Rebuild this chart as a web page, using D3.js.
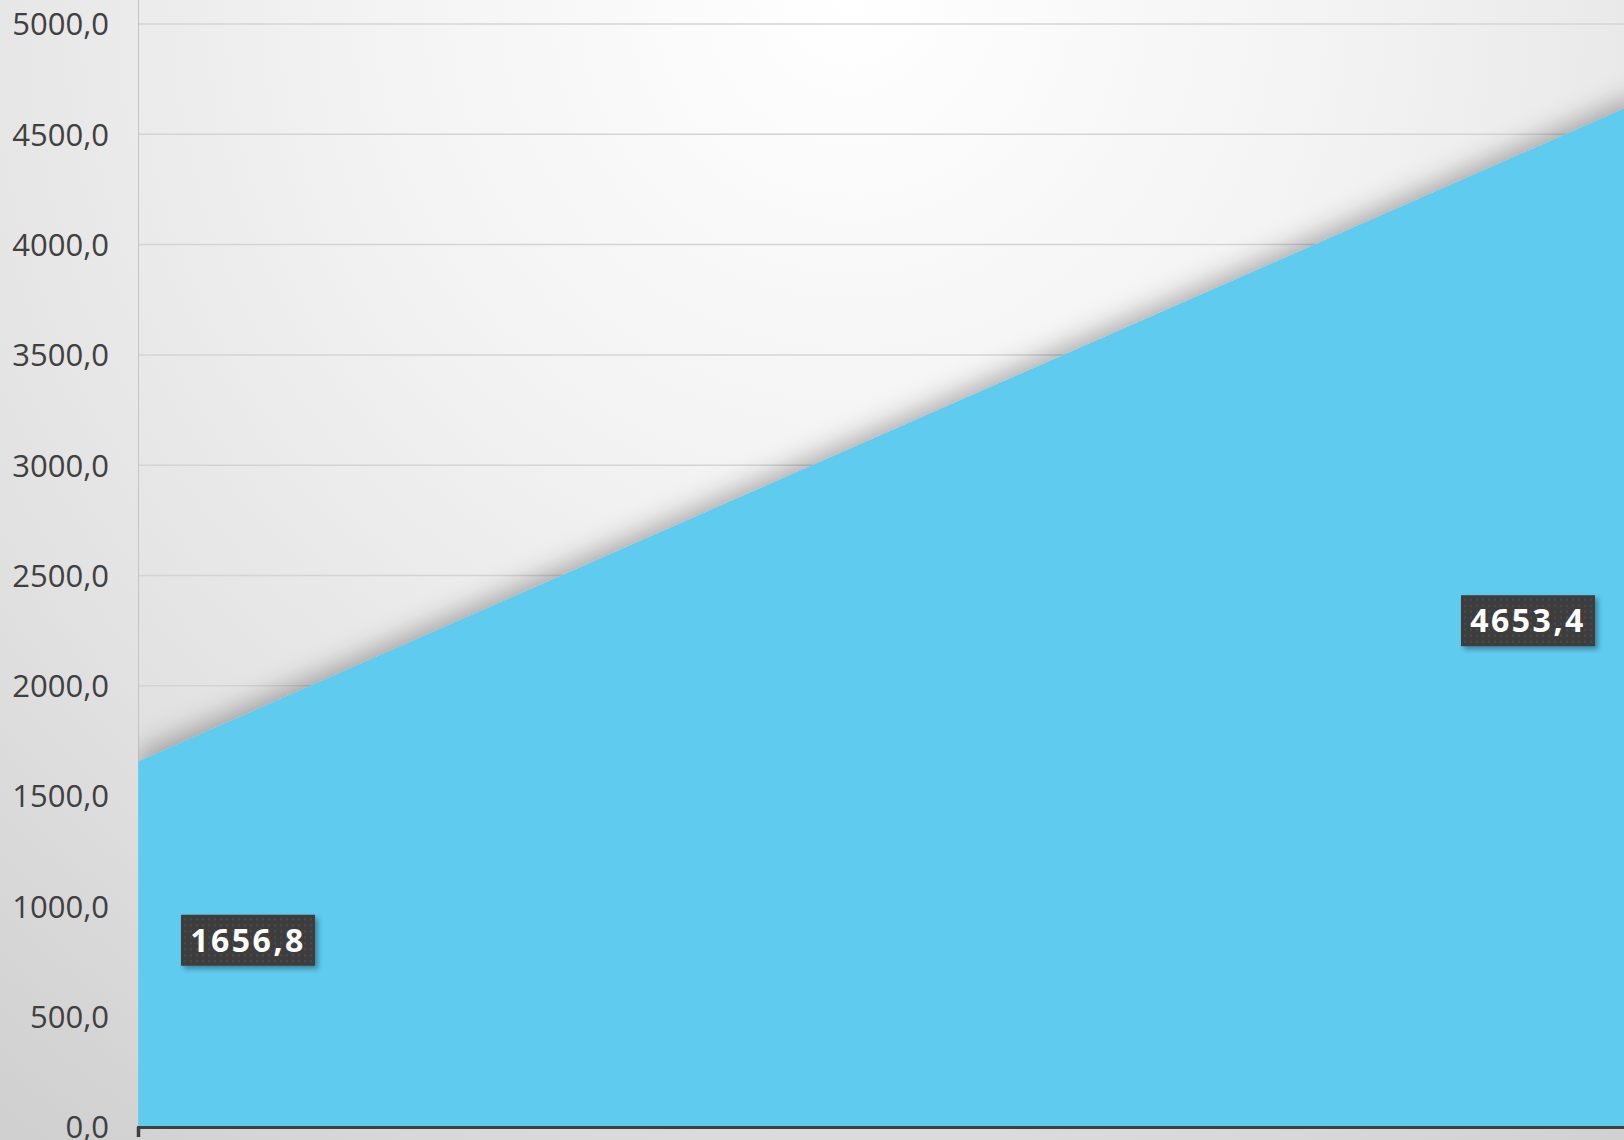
<!DOCTYPE html>
<html><head><meta charset="utf-8">
<script src="https://cdn.jsdelivr.net/npm/d3@7"></script>
<style>html,body{margin:0;padding:0;background:#e6e6e6;overflow:hidden}svg{display:block}</style>
</head><body>
<script>
const categories = ["A", "B"];
const values = [1656.8, 4653.4];
const yTicks = [0, 500, 1000, 1500, 2000, 2500, 3000, 3500, 4000, 4500, 5000];
const labelTexts = ["1656,8", "4653,4"];

const W = 1624, H = 1140;
const X0 = 138.5, X1 = 1643, Y0 = 1127, Y1 = 24;
const svg = d3.select("body").append("svg").attr("width", W).attr("height", H);
const defs = svg.append("defs");

const rg = defs.append("radialGradient").attr("id", "bg").attr("gradientUnits", "userSpaceOnUse")
  .attr("cx", 850).attr("cy", 0).attr("r", 1400);
rg.append("stop").attr("offset", 0).attr("stop-color", "#ffffff");
rg.append("stop").attr("offset", 0.35).attr("stop-color", "#f3f3f3");
rg.append("stop").attr("offset", 0.7).attr("stop-color", "#e2e2e2");
rg.append("stop").attr("offset", 1).attr("stop-color", "#d0d0d0");

const pat = defs.append("pattern").attr("id", "dots").attr("patternUnits", "userSpaceOnUse")
  .attr("width", 6).attr("height", 6);
pat.append("rect").attr("width", 6).attr("height", 6).attr("fill", "#3d3d3d");
pat.append("circle").attr("cx", 3).attr("cy", 3).attr("r", 1.2).attr("fill", "#4a4a4a");

const sh = defs.append("filter").attr("id", "areaShadow").attr("x", "-10%").attr("y", "-10%").attr("width", "120%").attr("height", "120%");
sh.append("feDropShadow").attr("dx", 0).attr("dy", -8).attr("stdDeviation", 13)
  .attr("flood-color", "#000").attr("flood-opacity", 0.3);

const bs = defs.append("filter").attr("id", "boxShadow").attr("x", "-20%").attr("y", "-20%").attr("width", "150%").attr("height", "150%");
bs.append("feDropShadow").attr("dx", 3).attr("dy", 3).attr("stdDeviation", 2.5)
  .attr("flood-color", "#000").attr("flood-opacity", 0.35);

defs.append("clipPath").attr("id", "plotClip").append("rect")
  .attr("x", X0).attr("y", 0).attr("width", W - X0).attr("height", Y0);

svg.append("rect").attr("width", W).attr("height", H).attr("fill", "url(#bg)");

const x = d3.scalePoint().domain(categories).range([X0, X1]);
const y = d3.scaleLinear().domain([0, 5000]).range([Y0, Y1]);

// grid
svg.append("g").selectAll("line").data(yTicks.filter(d => d > 0)).join("line")
  .attr("x1", X0).attr("x2", W).attr("y1", d => y(d)).attr("y2", d => y(d))
  .attr("stroke", "#d4d4d4").attr("stroke-width", 1.5);

// y axis
const yAxis = d3.axisLeft(y).tickValues(yTicks).tickSize(0).tickPadding(0)
  .tickFormat(d => d3.format(".1f")(d).replace(".", ","));
const gy = svg.append("g").attr("transform", "translate(109,0)").call(yAxis);
gy.select(".domain").remove();
gy.selectAll("text").attr("font-family", "'Open Sans', sans-serif").attr("font-size", 31)
  .attr("fill", "#404040").attr("dy", "0.35em");

svg.append("line").attr("x1", X0).attr("x2", X0).attr("y1", 0).attr("y2", Y0)
  .attr("stroke", "#c4c4c4").attr("stroke-width", 1);

const data = categories.map((c, i) => ({c, v: values[i], t: labelTexts[i]}));
const area = d3.area().x(d => x(d.c)).y0(y(0)).y1(d => y(d.v));

svg.append("g").attr("clip-path", "url(#plotClip)")
  .append("path").datum(data).attr("d", area).attr("fill", "#5ecbef").attr("filter", "url(#areaShadow)");
svg.append("path").datum(data).attr("d", area).attr("fill", "#5ecbef");

// x axis
svg.append("line").attr("x1", X0 - 1.5).attr("x2", W).attr("y1", Y0 + 0.5).attr("y2", Y0 + 0.5)
  .attr("stroke", "#404040").attr("stroke-width", 3.2);
svg.append("line").attr("x1", X0).attr("x2", X0).attr("y1", Y0).attr("y2", Y0 + 10)
  .attr("stroke", "#404040").attr("stroke-width", 3.5);

// labels
const offX = [109.5, -115];
const offY = [-4, 7];
const lg = svg.append("g").selectAll("g").data(data).join("g")
  .attr("transform", (d, i) => `translate(${x(d.c) + offX[i]},${y(d.v / 2) + offY[i]})`);
lg.append("rect").attr("x", -67).attr("y", -25.5).attr("width", 134).attr("height", 51)
  .attr("fill", "url(#dots)").attr("filter", "url(#boxShadow)");
lg.append("text").text(d => d.t).attr("text-anchor", "middle").attr("dy", "0.36em")
  .attr("font-family", "'Open Sans', sans-serif").attr("font-weight", "bold").attr("font-size", 32)
  .attr("letter-spacing", 2.5).attr("fill", "#ffffff");
</script>
</body></html>
